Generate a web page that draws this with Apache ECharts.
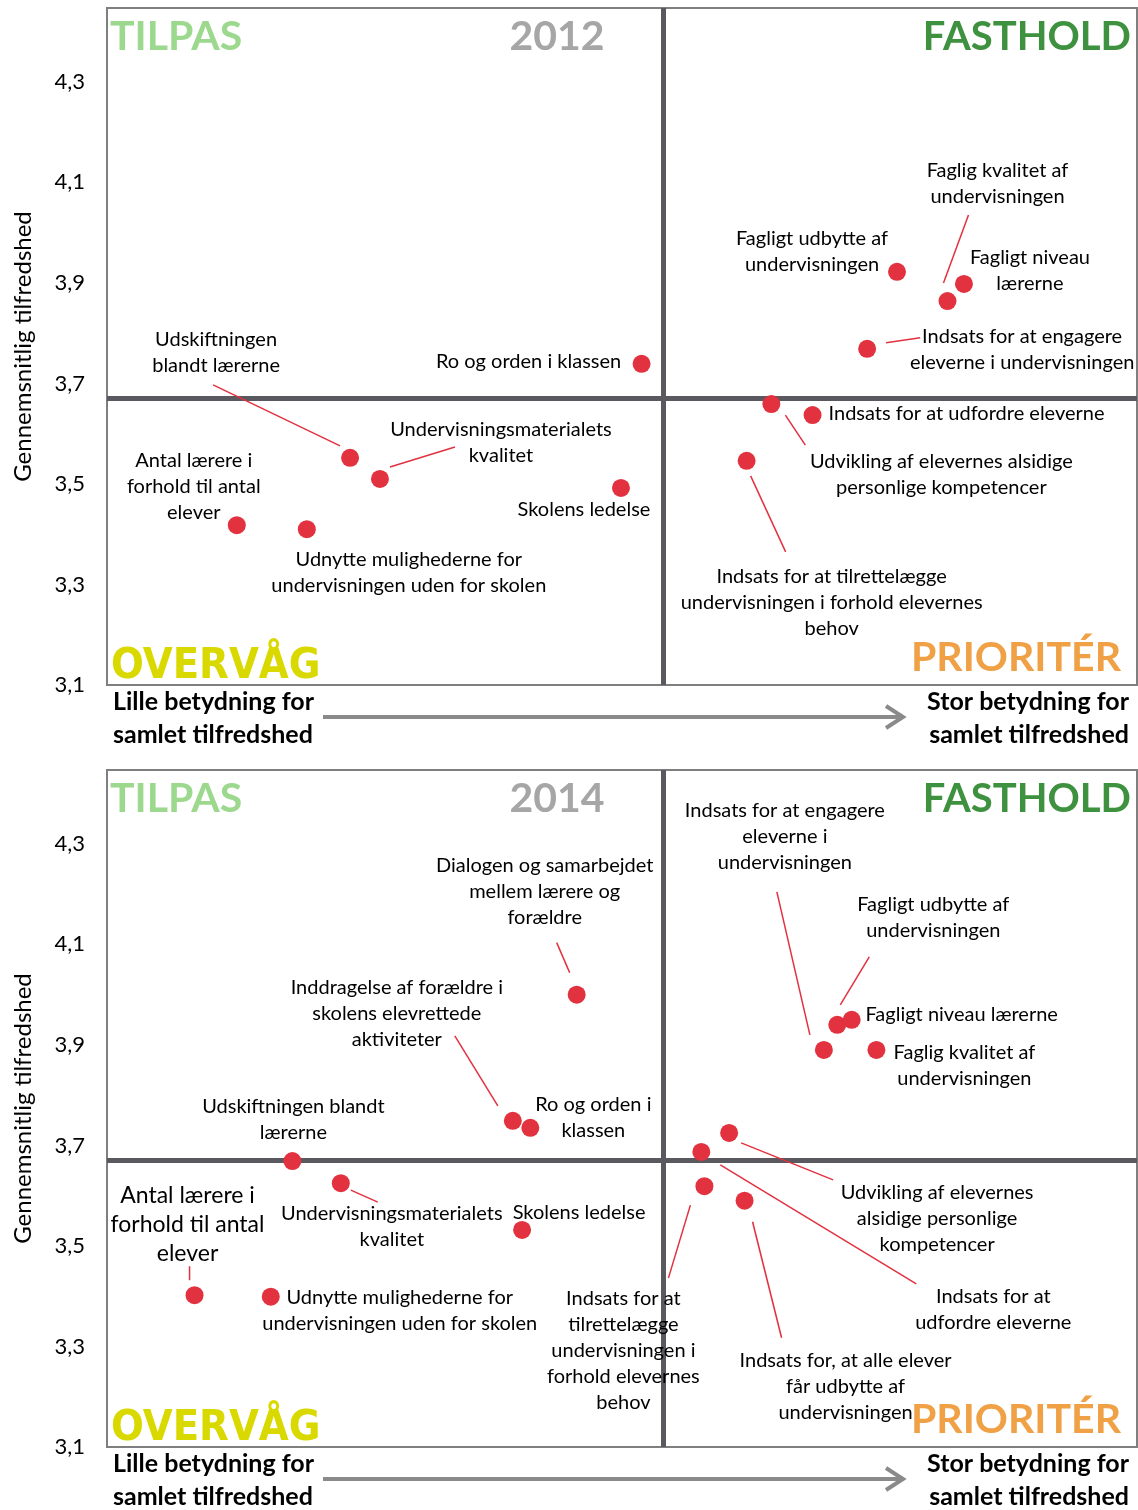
<!DOCTYPE html>
<html>
<head>
<meta charset="utf-8">
<script src="https://cdn.jsdelivr.net/npm/echarts@6/dist/echarts.min.js"></script>
<style>
  html, body { margin: 0; padding: 0; background: #fff; }
  #chart { width: 1138px; height: 1510px; }
</style>
</head>
<body>
<div id="chart"></div>
<script>
// quadrant split values (importance on x, satisfaction on y)
const xSplit = 54
const ySplit = 3.669

const names2012 = [
  'Faglig kvalitet af\nundervisningen',
  'Fagligt niveau\nlærerne',
  'Fagligt udbytte af\nundervisningen',
  'Indsats for at engagere\neleverne i undervisningen',
  'Ro og orden i klassen',
  'Indsats for at udfordre eleverne',
  'Udvikling af elevernes alsidige\npersonlige kompetencer',
  'Indsats for at tilrettelægge\nundervisningen i forhold elevernes\nbehov',
  'Udskiftningen\nblandt lærerne',
  'Undervisningsmaterialets\nkvalitet',
  'Skolens ledelse',
  'Antal lærere i\nforhold til antal\nelever',
  'Udnytte mulighederne for\nundervisningen uden for skolen',
]
const x2012 = [81.6, 83.2, 76.7, 73.8, 51.9, 68.5, 64.5, 62.1, 23.6, 26.5, 49.9, 12.6, 19.4]
const y2012 = [3.864, 3.898, 3.922, 3.769, 3.739, 3.637, 3.659, 3.546, 3.552, 3.510, 3.492, 3.418, 3.410]

const names2014 = [
  'Dialogen og samarbejdet\nmellem lærere og\nforældre',
  'Inddragelse af forældre i\nskolens elevrettede\naktiviteter',
  'Ro og orden i\nklassen',
  'Udskiftningen blandt\nlærerne',
  'Undervisningsmaterialets\nkvalitet',
  'Skolens ledelse',
  'Antal lærere i\nforhold til antal\nelever',
  'Udnytte mulighederne for\nundervisningen uden for skolen',
  'Indsats for at engagere\neleverne i\nundervisningen',
  'Fagligt udbytte af\nundervisningen',
  'Fagligt niveau lærerne',
  'Faglig kvalitet af\nundervisningen',
  'Udvikling af elevernes\nalsidige personlige\nkompetencer',
  'Indsats for at\nudfordre eleverne',
  'Indsats for at\ntilrettelægge\nundervisningen i\nforhold elevernes\nbehov',
  'Indsats for, at alle elever\nfår udbytte af\nundervisningen',
]
const x2014 = [45.6, 39.4, 41.1, 18.0, 22.7, 40.3, 8.5, 15.9, 69.6, 70.9, 72.3, 74.7, 60.4, 57.7, 58.0, 61.9]
const y2014 = [4.000, 3.749, 3.735, 3.669, 3.625, 3.532, 3.402, 3.399, 3.890, 3.940, 3.950, 3.890, 3.725, 3.687, 3.619, 3.590]

// label placement: offset of text centre from the dot
const offsets2012 = [[50, -117], [66, -13], [-85, -20], [155, 1], [-113, -2], [154, -2], [170, 70], [85, 142], [-134, -105], [121, -36], [-37, 22], [-43, -39], [102, 43]]
const offsets2014 = [[-32, -103], [-116, -107], [63, -10], [1, -41], [51, 43], [57, -17], [-7, -71], [129, 14], [-39, -213], [96, -107], [110, -5], [88, 16], [208, 86], [292, 158], [-81, 164], [101, 186]]
// leader lines: point index -> [start dx, start dy, end dx, end dy] relative to the dot
const leaders2012 = {
  0: [-4, -18, 21, -86], 3: [19, -6, 53, -11], 6: [14, 11, 34, 41],
  7: [4, 15, 39, 91], 8: [-10, -12, -137, -73], 9: [10, -12, 75, -32],
}
const leaders2014 = {
  0: [-7, -22, -20, -52], 1: [-15, -15, -58, -85], 4: [10, 7, 37, 19], 6: [-5, -15, -5, -29],
  8: [-14, -15, -47, -158], 9: [3, -20, 32, -68], 12: [12, 10, 104, 47], 13: [19, 13, 215, 132],
  14: [-14, 19, -36, 92], 15: [8, 21, 37, 137],
}
const bigLabels2014 = [6]

const RED = '#e2313f'
const FONT = 'Lato'

function points(names, xs, ys, offsets, big) {
  return names.map((n, i) => {
    const label = { offset: offsets[i] }
    if (big && big.includes(i)) { label.fontSize = 23; label.lineHeight = 29 }
    return { name: n, value: [xs[i], ys[i]], label }
  })
}

function leaderData(xs, ys, leaders) {
  return Object.keys(leaders).map((k) => [xs[k], ys[k], ...leaders[k]])
}

function yAxis(gridIndex) {
  return {
    type: 'value', gridIndex, min: 3.1, max: 4.447, interval: 0.2,
    name: 'Gennemsnitlig tilfredshed', nameLocation: 'middle', nameGap: 72,
    nameTextStyle: { fontFamily: FONT, fontSize: 24, color: '#000' },
    axisLine: { show: false }, axisTick: { show: false }, splitLine: { show: false },
    axisLabel: {
      margin: 22, fontFamily: FONT, fontSize: 22, color: '#000', showMaxLabel: false,
      formatter: (v) => (Math.round(v * 10) / 10).toFixed(1).replace('.', ','),
    },
  }
}

function scatter(i, data) {
  return {
    type: 'scatter', xAxisIndex: i, yAxisIndex: i, z: 10,
    symbolSize: 18, itemStyle: { color: RED, opacity: 1 },
    data,
    label: {
      show: true, position: 'inside', formatter: '{b}', align: 'center', verticalAlign: 'middle',
      color: '#000', fontFamily: FONT, fontSize: 20, lineHeight: 26, textBorderWidth: 0,
    },
    markLine: {
      silent: true, symbol: 'none', animation: false,
      label: { show: false },
      lineStyle: { type: 'solid', color: '#59595f', width: 5 },
      data: [{ xAxis: xSplit }, { yAxis: ySplit }],
    },
  }
}

function leaders(i, data) {
  return {
    type: 'custom', xAxisIndex: i, yAxisIndex: i, z: 9, silent: true,
    encode: { x: 0, y: 1 },
    data,
    renderItem: (params, api) => {
      const p = api.coord([api.value(0), api.value(1)])
      return {
        type: 'line',
        shape: { x1: p[0] + api.value(2), y1: p[1] + api.value(3), x2: p[0] + api.value(4), y2: p[1] + api.value(5) },
        style: { stroke: RED, lineWidth: 1.5 },
      }
    },
  }
}

function decor(dy, year) {
  const big = (text, x, y, color, align, font) => ({
    type: 'text', x, y: y + dy, z: 20,
    style: { text, fill: color, font: font || 'bold 41px Lato', align, verticalAlign: 'middle' },
  })
  const bottom = (text, x, align) => ({
    type: 'text', x, y: 718 + dy, z: 20,
    style: { text, fill: '#000', font: 'bold 25px Lato', lineHeight: 33, align, verticalAlign: 'middle' },
  })
  return [
    big('TILPAS', 110, 37, '#9dd88f', 'left'),
    big(year, 557, 37, '#a6a6a6', 'center'),
    big('FASTHOLD', 1131, 37, '#3e913e', 'right', 'bold 40px Lato'),
    big('OVERVÅG', 111, 667, '#d9d900', 'left', 'bold 43px "DejaVu Sans Condensed", "DejaVu Sans", sans-serif'),
    big('PRIORITÉR', 1121, 658, '#f0a045', 'right'),
    bottom('Lille betydning for\nsamlet tilfredshed', 113, 'left'),
    bottom('Stor betydning for\nsamlet tilfredshed', 1129, 'right'),
    {
      type: 'polyline', z: 20, shape: { points: [[323, 717 + dy], [903, 717 + dy]] },
      style: { stroke: '#8a8a8a', lineWidth: 4, fill: null },
    },
    {
      type: 'polyline', z: 20, shape: { points: [[886, 706 + dy], [903, 717 + dy], [886, 728 + dy]] },
      style: { stroke: '#8a8a8a', lineWidth: 4, fill: null, lineJoin: 'miter' },
    },
  ]
}

const chart = echarts.init(document.getElementById('chart'), null, { renderer: 'canvas' })
chart.setOption({
  animation: false,
  backgroundColor: '#fff',
  textStyle: { fontFamily: FONT },
  grid: [
    { left: 107, top: 8, width: 1030, height: 677, show: true, borderColor: '#7f7f7f', borderWidth: 2 },
    { left: 107, top: 770, width: 1030, height: 677, show: true, borderColor: '#7f7f7f', borderWidth: 2 },
  ],
  xAxis: [
    { type: 'value', gridIndex: 0, min: 0, max: 100, show: false },
    { type: 'value', gridIndex: 1, min: 0, max: 100, show: false },
  ],
  yAxis: [yAxis(0), yAxis(1)],
  series: [
    scatter(0, points(names2012, x2012, y2012, offsets2012)),
    leaders(0, leaderData(x2012, y2012, leaders2012)),
    scatter(1, points(names2014, x2014, y2014, offsets2014, bigLabels2014)),
    leaders(1, leaderData(x2014, y2014, leaders2014)),
  ],
  graphic: [...decor(0, '2012'), ...decor(762, '2014')],
})
</script>
</body>
</html>
